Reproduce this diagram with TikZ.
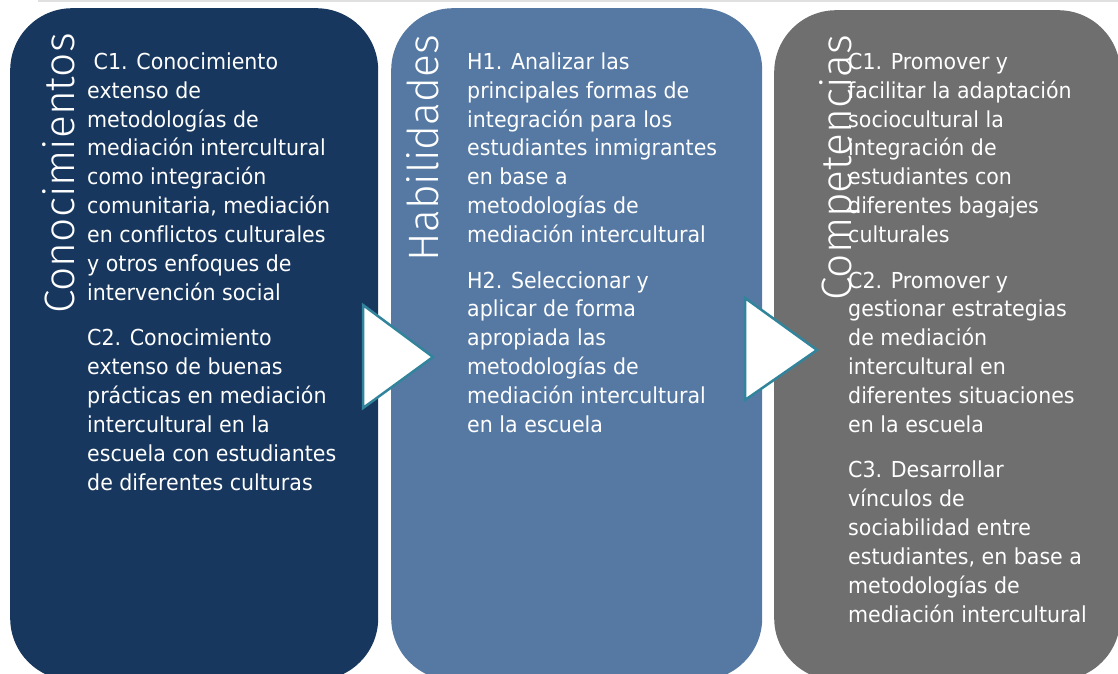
\documentclass[tikz,border=0pt]{standalone}
\usepackage{fontspec}
\setmainfont{DejaVu Sans}[FakeStretch=0.935, Ligatures=NoCommon]
\newfontfamily\headfont{Fira Sans Light}
\definecolor{navy}{HTML}{17375E}
\definecolor{steel}{HTML}{5679A4}
\definecolor{slate}{HTML}{6F6F6F}
\definecolor{edgeteal}{HTML}{31849B}

\begin{document}
\begin{tikzpicture}[x=1pt, y=-1pt,
    panel/.style={rounded corners=62pt, inner sep=0pt, anchor=north west},
    heading/.style={font=\headfont\fontsize{42.5}{42.5}\selectfont, text=white,
                    rotate=90, anchor=base east, inner sep=0pt},
    body/.style={font=\fontsize{22}{28.9}\selectfont, text=white, align=left,
                 anchor=north west, inner sep=0pt},
    chevron/.style={fill=white, draw=edgeteal, line width=2.5pt}]
  \useasboundingbox (0,0) rectangle (1118,673);
  \clip (0,0) rectangle (1118,673);
  \draw[line width=1.5pt, black!12] (38,1) -- (1118,1);

  % panels
  \node[panel, fill=navy,  minimum width=368pt, minimum height=672pt] (know)  at (10,8)  {};
  \node[panel, fill=steel, minimum width=371pt, minimum height=672pt] (skill) at (391,8) {};
  \node[panel, fill=slate, minimum width=346pt, minimum height=670pt] (comp)  at (774,10) {};

  % arrows between panels
  \draw[chevron] (363,305) -- (433,357) -- (363,408) -- cycle;
  \draw[chevron] (745,298) -- (817,350) -- (745,400) -- cycle;

  % titles
  \node[heading] (knowtitle)  at (74,33)  {Conocimientos};
  \node[heading] (skilltitle) at (438,35) {Habilidades};
  \node[heading] (comptitle)  at (851,35) {Competencias};

  % texts
  \node[body] (knowtext) at (87,52) {\rule{0pt}{17pt}~C1. Conocimiento\\extenso de\\
    metodologías de\\mediación intercultural\\como integración\\
    comunitaria, mediación\\en conflictos culturales\\y otros enfoques de\\
    intervención social\\[16.5pt]
    C2. Conocimiento\\extenso de buenas\\prácticas en mediación\\
    intercultural en la\\escuela con estudiantes\\de diferentes culturas};
  \node[body] (skilltext) at (467,52) {\rule{0pt}{17pt}H1. Analizar las\\
    principales formas de\\integración para los\\estudiantes inmigrantes\\
    en base a\\metodologías de\\mediación intercultural\\[16.5pt]
    H2. Seleccionar y\\aplicar de forma\\apropiada las\\metodologías de\\
    mediación intercultural\\en la escuela};
  \node[body] (comptext) at (848,52) {\rule{0pt}{17pt}C1. Promover y\\
    facilitar la adaptación\\sociocultural la\\integración de\\
    estudiantes con\\diferentes bagajes\\culturales\\[16.5pt]
    C2. Promover y\\gestionar estrategias\\de mediación\\intercultural en\\
    diferentes situaciones\\en la escuela\\[16.5pt]
    C3. Desarrollar\\vínculos de\\sociabilidad entre\\estudiantes, en base a\\
    metodologías de\\mediación intercultural};
\end{tikzpicture}
\end{document}
